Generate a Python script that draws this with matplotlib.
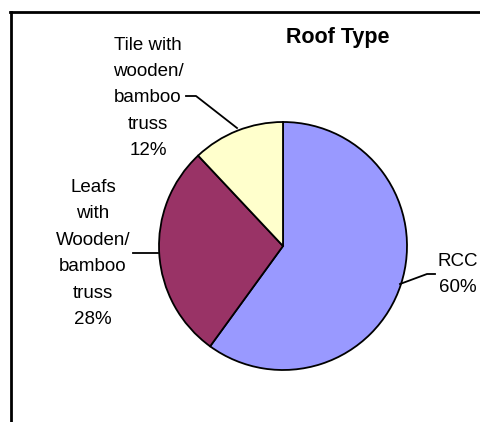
import matplotlib
matplotlib.use('Agg')
import matplotlib.pyplot as plt
from matplotlib.lines import Line2D

# ---------------------------------------------------------------------------
# Data
# ---------------------------------------------------------------------------
TITLE = 'Roof Type'
LABELS = ['RCC', 'Leafs\nwith\nWooden/\nbamboo\ntruss', 'Tile with\nwooden/\nbamboo\ntruss']
VALUES = [60, 28, 12]
COLORS = ['#9999FF', '#993366', '#FFFFCC']

W, H = 480, 422
FONT = ['Liberation Sans', 'DejaVu Sans']


def py(y):
    """Convert pixel row (from top) to axes y (from bottom)."""
    return H - y


def main():
    plt.rcParams['font.family'] = FONT
    fig = plt.figure(figsize=(W / 100, H / 100), dpi=100, facecolor='white')
    ax = fig.add_axes([0, 0, 1, 1])

    cx, cy, r = 283, py(246), 124
    ax.pie(VALUES, colors=COLORS, startangle=90, counterclock=False,
           center=(cx, cy), radius=r,
           wedgeprops=dict(edgecolor='black', linewidth=1.3))
    ax.set_xlim(0, W)
    ax.set_ylim(0, H)
    ax.set_aspect('equal')
    ax.axis('off')

    # chart area frame (only left and top edges visible)
    ax.add_line(Line2D([10.5, 10.5], [py(12), 0], color='black', lw=2))
    ax.add_line(Line2D([10, W], [py(12), py(12)], color='black', lw=2))

    ax.text(337.5, py(38), TITLE, ha='center', va='center',
            fontsize=15.5, fontweight='bold')

    total = sum(VALUES)
    texts = [f'{lab}\n{v / total * 100:.0f}%' for lab, v in zip(LABELS, VALUES)]
    # label anchors: (center x, first line y, line step)
    anchors = [(458, 261, 26.5), (93, 187, 26.6), (148, 45.5, 26.2)]
    for txt, (x, y0, step) in zip(texts, anchors):
        for i, line in enumerate(txt.split('\n')):
            ax.text(x, py(y0 + i * step), line, ha='center', va='center',
                    fontsize=13.5)

    # leader lines
    leaders = [
        [(400, 284), (427, 274), (435, 274)],
        [(133, 253), (158, 253)],
        [(186, 96), (196, 96), (237, 128)],
    ]
    for pts in leaders:
        xs = [p[0] for p in pts]
        ys = [py(p[1]) for p in pts]
        ax.add_line(Line2D(xs, ys, color='black', lw=1.3))

    fig.savefig('out.png', dpi=100, facecolor='white')
    plt.close(fig)


if __name__ == '__main__':
    main()
